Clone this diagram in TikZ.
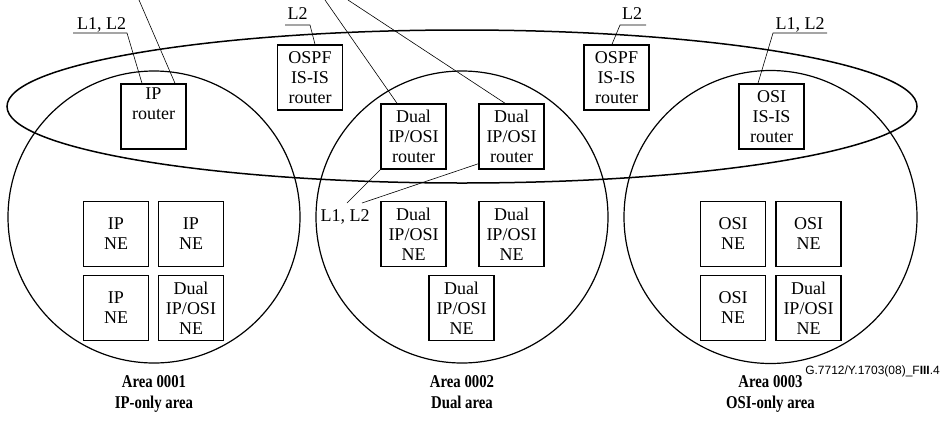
\documentclass[tikz,border=0pt]{standalone}
\usepackage{fontspec}
\setmainfont{Liberation Serif}
\newfontfamily\gsans{Liberation Sans}
\begin{document}
\begin{tikzpicture}[x=1pt,y=-1pt,
  box/.style={draw, line width=1.5pt, minimum width=65pt, minimum height=65pt,
    inner sep=0pt, align=center, font=\fontsize{18}{20}\selectfont},
  arealine/.style={line width=1.2pt},
  leader/.style={line width=0.6pt},
  lbl/.style={inner sep=0pt, font=\fontsize{18}{20}\selectfont},
  capt/.style={inner sep=0pt, font=\fontsize{18}{22}\selectfont\bfseries}]
\useasboundingbox (0,0) rectangle (942,421);

% areas
\draw[arealine] (154,217) circle [radius=146];
\draw[arealine] (462,217) circle [radius=146];
\draw[arealine] (770.5,217) circle [radius=146.5];
\draw[line width=1.5pt] (462,106.5) ellipse [x radius=455, y radius=76.5];

% routers
\node[box] (iprouter) at (153.5,116.5) {IP\\router\\\strut};
\node[box] (ospfa) at (310,77.5) {OSPF\\IS-IS\\router};
\node[box] (ospfb) at (616.5,77.5) {OSPF\\IS-IS\\router};
\node[box] (duala) at (413.5,136.5) {Dual\\IP/OSI\\router};
\node[box] (dualb) at (511.5,136.5) {Dual\\IP/OSI\\router};
\node[box] (osirouter) at (771.5,116.5) {OSI\\IS-IS\\router};

% NEs area 1
\node[box] (nea) at (116,234) {IP\\NE};
\node[box] (neb) at (191,234) {IP\\NE};
\node[box] (nec) at (116,308) {IP\\NE};
\node[box] (ned) at (191,308) {Dual\\IP/OSI\\NE};
% NEs area 2
\node[box] (nee) at (413.5,234) {Dual\\IP/OSI\\NE};
\node[box] (nef) at (511.5,234) {Dual\\IP/OSI\\NE};
\node[box] (neg) at (461.5,308) {Dual\\IP/OSI\\NE};
% NEs area 3
\node[box] (neh) at (733,234) {OSI\\NE};
\node[box] (nei) at (808.5,234) {OSI\\NE};
\node[box] (nej) at (733,308) {OSI\\NE};
\node[box] (nek) at (808.5,308) {Dual\\IP/OSI\\NE};

% top level labels
\node[lbl, anchor=base] (lla) at (101.5,29) {L1, L2};
\node[lbl, anchor=base] (lta) at (297.5,19) {L2};
\node[lbl, anchor=base] (ltb) at (632,19) {L2};
\node[lbl, anchor=base] (llb) at (800,29) {L1, L2};
\node[lbl, anchor=base] (llm) at (345,221) {L1, L2};

\coordinate (ua1) at (73,33);   \coordinate (ua2) at (127,33);
\coordinate (ub1) at (285,25);  \coordinate (ub2) at (310,25);
\coordinate (uc1) at (620,25);  \coordinate (uc2) at (646,25);
\coordinate (ud1) at (773,33);  \coordinate (ud2) at (827,33);
\coordinate (um1) at (347,203); \coordinate (um2) at (362,203);
\coordinate (ta) at (139,0);
\coordinate (tb) at (325,0);
\coordinate (tc) at (348,0);

\draw[leader] (ua1) -- (ua2) -- ([xshift=-11.5pt]iprouter.north);
\draw[leader] (ub1) -- (ub2) -- ([xshift=5pt]ospfa.north);
\draw[leader] (uc2) -- (uc1) -- ([xshift=-4.5pt]ospfb.north);
\draw[leader] (ud2) -- (ud1) -- ([xshift=-13.5pt]osirouter.north);
\draw[leader] (um1) -- (duala.south west);
\draw[leader] (um2) -- ([yshift=6pt]dualb.south west);
\draw[leader] (ta) -- ([xshift=21.5pt]iprouter.north);
\draw[leader] (tb) -- ([xshift=-16.5pt]duala.north);
\draw[leader] (tc) -- ([xshift=-6.5pt]dualb.north);

% captions
\node[capt, anchor=base] (ca) at (154,387) {\scalebox{0.82}[1]{Area 0001}};
\node[capt, anchor=base] (cb) at (154,408) {\scalebox{0.82}[1]{IP-only area}};
\node[capt, anchor=base] (cc) at (462,387) {\scalebox{0.82}[1]{Area 0002}};
\node[capt, anchor=base] (cd) at (462,408) {\scalebox{0.82}[1]{Dual area}};
\node[capt, anchor=base] (ce) at (770.5,387) {\scalebox{0.82}[1]{Area 0003}};
\node[capt, anchor=base] (cf) at (770.5,408) {\scalebox{0.82}[1]{OSI-only area}};
\node[inner sep=0pt, anchor=base east, font=\fontsize{12}{14}\selectfont\gsans] (fig) at (940,374) {G.7712/Y.1703(08)\_F\textbf{III}.4};
\end{tikzpicture}
\end{document}
